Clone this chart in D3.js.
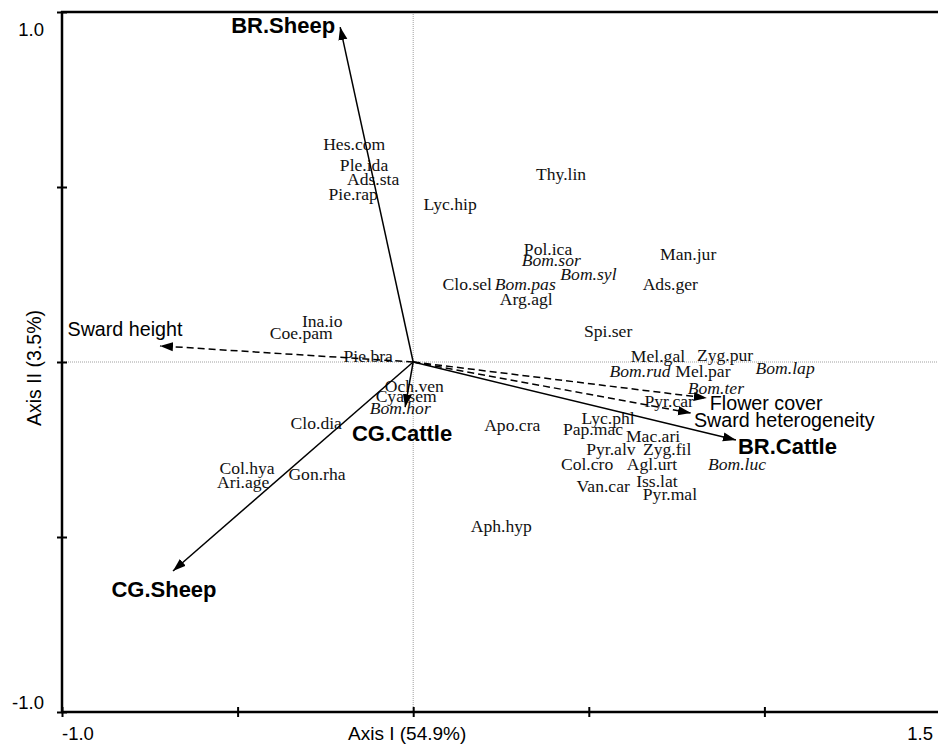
<!DOCTYPE html>
<html>
<head>
<meta charset="utf-8">
<script src="https://cdn.jsdelivr.net/npm/d3@7"></script>
<style>
  html, body { margin: 0; padding: 0; background: #fff; }
  svg { display: block; }
</style>
</head>
<body>
<svg id="chart" width="938" height="746"></svg>
<script>
// ---------- data ----------
// Species scores (Axis I, Axis II)
const speciesNames = ["Hes.com","Ple.ida","Ads.sta","Pie.rap","Lyc.hip","Thy.lin","Pol.ica","Bom.sor","Bom.syl","Clo.sel","Bom.pas","Arg.agl","Man.jur","Ads.ger","Spi.ser","Ina.io","Coe.pam","Pie.bra","Och.ven","Cya.sem","Bom.hor","Clo.dia","Col.hya","Ari.age","Gon.rha","Apo.cra","Aph.hyp","Mel.gal","Zyg.pur","Bom.rud","Mel.par","Bom.lap","Bom.ter","Pyr.car","Lyc.phl","Pap.mac","Mac.ari","Pyr.alv","Zyg.fil","Col.cro","Agl.urt","Bom.luc","Iss.lat","Van.car","Pyr.mal"];
const speciesAxis1 = [-0.168,-0.140,-0.114,-0.171,0.105,0.421,0.384,0.393,0.499,0.154,0.319,0.322,0.783,0.732,0.555,-0.259,-0.319,-0.128,0.003,-0.020,-0.037,-0.276,-0.473,-0.484,-0.274,0.282,0.251,0.697,0.888,0.646,0.825,1.059,0.862,0.729,0.555,0.512,0.683,0.563,0.723,0.495,0.680,0.922,0.694,0.541,0.731];
const speciesAxis2 = [0.623,0.563,0.523,0.480,0.451,0.537,0.323,0.291,0.251,0.223,0.223,0.180,0.309,0.223,0.089,0.117,0.083,0.017,-0.069,-0.097,-0.131,-0.174,-0.303,-0.343,-0.320,-0.180,-0.469,0.017,0.020,-0.026,-0.026,-0.017,-0.074,-0.111,-0.160,-0.191,-0.211,-0.249,-0.249,-0.291,-0.291,-0.291,-0.340,-0.354,-0.377];
const speciesItalic = ["Bom.sor","Bom.syl","Bom.pas","Bom.hor","Bom.rud","Bom.lap","Bom.ter","Bom.luc"];

// Treatment arrows (solid)
const treatNames = ["BR.Sheep","CG.Sheep","BR.Cattle","CG.Cattle"];
const treatAxis1 = [-0.208,-0.684,0.919,-0.023];
const treatAxis2 = [0.957,-0.597,-0.223,-0.129];

// Environmental arrows (dashed)
const envNames = ["Sward height","Flower cover","Sward heterogeneity"];
const envAxis1 = [-0.721,0.836,0.791];
const envAxis2 = [0.046,-0.103,-0.146];

// Axes
const xTicks = [-1.0,-0.5,0,0.5,1.0,1.5];
const yTicks = [-1.0,-0.5,0,0.5,1.0];
const xTickLabels = ["-1.0","1.5"];
const yTickLabels = ["1.0","-1.0"];
const xTitle = "Axis I (54.9%)";
const yTitle = "Axis II (3.5%)";

// ---------- layout / style ----------
const serif = "'Liberation Serif','Times New Roman',serif";
const sans = "'Liberation Sans',Arial,sans-serif";
const svg = d3.select("#chart");
const x = d3.scaleLinear().domain([-1, 1.5]).range([62, 940]);
const y = d3.scaleLinear().domain([-1, 1]).range([712, 12]);

// arrowhead marker
const defs = svg.append("defs");
defs.append("marker")
  .attr("id", "head")
  .attr("viewBox", "0 -5 14 10")
  .attr("refX", 13).attr("refY", 0)
  .attr("markerWidth", 14).attr("markerHeight", 10)
  .attr("markerUnits", "userSpaceOnUse")
  .attr("orient", "auto")
  .append("path").attr("d", "M0,-4.5L13,0L0,4.5Z").attr("fill", "#000");

// reference dotted lines through origin
svg.append("line")
  .attr("x1", x(0)).attr("x2", x(0)).attr("y1", y(1)).attr("y2", y(-1))
  .attr("stroke", "#888").attr("stroke-width", 0.8).attr("stroke-dasharray", "1,1");
svg.append("line")
  .attr("x1", x(-1)).attr("x2", 938).attr("y1", y(0)).attr("y2", y(0))
  .attr("stroke", "#888").attr("stroke-width", 0.8).attr("stroke-dasharray", "1,1");

// axes
const xAxis = d3.axisBottom(x).tickValues(xTicks).tickSize(0).tickFormat("");
const gx = svg.append("g").attr("transform", `translate(0,${y(-1)})`).call(xAxis);
gx.select(".domain").remove();
svg.append("line").attr("x1", x(-1) - 1).attr("x2", 938).attr("y1", y(-1)).attr("y2", y(-1))
  .attr("stroke", "#000").attr("stroke-width", 2.5);
gx.selectAll(".tick").append("line").attr("y1", -5).attr("y2", 5)
  .attr("stroke", "#000").attr("stroke-width", 2);

const yAxis = d3.axisLeft(y).tickValues(yTicks).tickSize(0).tickFormat("");
const gy = svg.append("g").attr("transform", `translate(${x(-1)},0)`).call(yAxis);
gy.select(".domain").remove();
svg.append("line").attr("x1", x(-1)).attr("x2", x(-1)).attr("y1", y(1) - 1).attr("y2", y(-1) + 1)
  .attr("stroke", "#000").attr("stroke-width", 2.5);
gy.selectAll(".tick").append("line").attr("x1", -5).attr("x2", 5)
  .attr("stroke", "#000").attr("stroke-width", 2);
// top border
svg.append("line").attr("x1", x(-1) - 1).attr("x2", 938).attr("y1", y(1)).attr("y2", y(1))
  .attr("stroke", "#000").attr("stroke-width", 2.5);

// tick labels
const tickFont = 18.5;
svg.append("text").attr("x", x(-1)).attr("y", 740).attr("font-family", sans).attr("font-size", tickFont)
  .attr("text-anchor", "start").text(xTickLabels[0]);
svg.append("text").attr("x", 933).attr("y", 740).attr("font-family", sans).attr("font-size", tickFont)
  .attr("text-anchor", "end").text(xTickLabels[1]);
svg.append("text").attr("x", 44).attr("y", y(1) + 24).attr("font-family", sans).attr("font-size", tickFont)
  .attr("text-anchor", "end").text(yTickLabels[0]);
svg.append("text").attr("x", 44).attr("y", y(-1) - 3).attr("font-family", sans).attr("font-size", tickFont)
  .attr("text-anchor", "end").text(yTickLabels[1]);

// axis titles
svg.append("text").attr("x", x(0) - 6).attr("y", 740).attr("font-family", sans).attr("font-size", 19)
  .attr("text-anchor", "middle").text(xTitle);
svg.append("text").attr("transform", `translate(41,${y(0) + 6}) rotate(-90)`)
  .attr("font-family", sans).attr("font-size", 19.5).attr("text-anchor", "middle").text(yTitle);

// species labels
const species = speciesNames.map((n, i) => ({ name: n, a1: speciesAxis1[i], a2: speciesAxis2[i] }));
svg.append("g").selectAll("text").data(species).join("text")
  .attr("x", d => x(d.a1)).attr("y", d => y(d.a2))
  .attr("dy", "0.33em")
  .attr("text-anchor", "middle")
  .attr("font-family", serif).attr("font-size", 17.6)
  .attr("font-style", d => speciesItalic.includes(d.name) ? "italic" : "normal")
  .attr("fill", "#111")
  .text(d => d.name);

// environmental arrows (dashed)
const env = envNames.map((n, i) => ({ name: n, a1: envAxis1[i], a2: envAxis2[i] }));
const envLabelPos = [
  { anchor: "middle", dx: -35, dy: -10 },
  { anchor: "start", dx: 3, dy: 12 },
  { anchor: "start", dx: 3, dy: 14 }
];
svg.append("g").selectAll("line").data(env).join("line")
  .attr("x1", x(0)).attr("y1", y(0))
  .attr("x2", d => x(d.a1)).attr("y2", d => y(d.a2))
  .attr("stroke", "#000").attr("stroke-width", 1.5)
  .attr("stroke-dasharray", "7,4")
  .attr("marker-end", "url(#head)");
svg.append("g").selectAll("text").data(env).join("text")
  .attr("x", (d, i) => x(d.a1) + envLabelPos[i].dx)
  .attr("y", (d, i) => y(d.a2) + envLabelPos[i].dy)
  .attr("text-anchor", (d, i) => envLabelPos[i].anchor)
  .attr("font-family", sans).attr("font-size", 19.7)
  .text(d => d.name);

// treatment arrows (solid)
const treat = treatNames.map((n, i) => ({ name: n, a1: treatAxis1[i], a2: treatAxis2[i] }));
const treatLabelPos = [
  { anchor: "end", dx: -5, dy: 6 },
  { anchor: "middle", dx: -9, dy: 26 },
  { anchor: "start", dx: 2, dy: 14 },
  { anchor: "middle", dx: -3, dy: 34 }
];
svg.append("g").selectAll("line").data(treat).join("line")
  .attr("x1", x(0)).attr("y1", y(0))
  .attr("x2", d => x(d.a1)).attr("y2", d => y(d.a2))
  .attr("stroke", "#000").attr("stroke-width", 1.5)
  .attr("marker-end", "url(#head)");
svg.append("g").selectAll("text").data(treat).join("text")
  .attr("x", (d, i) => x(d.a1) + treatLabelPos[i].dx)
  .attr("y", (d, i) => y(d.a2) + treatLabelPos[i].dy)
  .attr("text-anchor", (d, i) => treatLabelPos[i].anchor)
  .attr("font-family", sans).attr("font-size", 22).attr("font-weight", "bold")
  .text(d => d.name);
</script>
</body>
</html>
